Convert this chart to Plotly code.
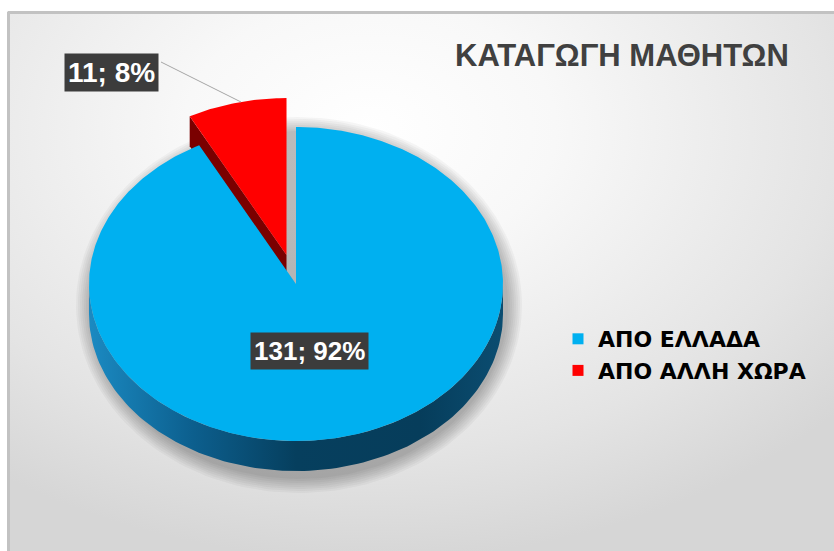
import numpy as np
import plotly.graph_objects as go

# ---------------- data ----------------
labels = ["ΑΠΟ ΕΛΛΑΔΑ", "ΑΠΟ ΑΛΛΗ ΧΩΡΑ"]
values = [131, 11]
top_colors = ["#00B0F0", "#FF0000"]
explode = [0.0, 0.19]
title_text = "ΚΑΤΑΓΩΓΗ ΜΑΘΗΤΩΝ"

# ---------------- layout constants ----------------
W, H = 834, 551
CX, CY, RX, RY, DEPTH = 296, 284, 207, 157, 30
FONT = "Liberation Sans, Arial, sans-serif"
LEGEND_FONT = "DejaVu Sans, Verdana, sans-serif"

total = float(sum(values))
pcts = [round(v / total * 100) for v in values]


def pt(theta_deg, ox=0.0, oy=0.0, dz=0.0):
    t = np.radians(theta_deg)
    return CX + ox + RX * np.sin(t), CY + oy - RY * np.cos(t) + dz


def ellipse(cx, cy, rx, ry, n=180):
    t = np.linspace(0, 2 * np.pi, n)
    return list(cx + rx * np.cos(t)), list(cy + ry * np.sin(t))


fig = go.Figure()

# background gradient
fig.add_trace(go.Scatter(
    x=[-250, 990, 990, -250, -250], y=[-300, -300, 560, 560, -300],
    mode="lines", line=dict(width=0), fill="toself",
    fillgradient=dict(type="radial",
                      colorscale=[[0, "#ffffff"], [0.3, "#f8f8f8"],
                                  [0.75, "#e4e4e4"], [1, "#d6d6d6"]]),
    hoverinfo="skip", showlegend=False))

# soft shadow under the pie
for k in range(16, 0, -2):
    ex, ey = ellipse(CX + 3, CY + DEPTH / 2 + 6, RX + k, RY + DEPTH / 2 + k)
    fig.add_trace(go.Scatter(x=ex, y=ey, mode="lines", line=dict(width=0),
                             fill="toself", fillcolor="rgba(0,0,0,0.035)",
                             hoverinfo="skip", showlegend=False))

# slice angles (clockwise from 12 o'clock)
angles = []
start = 0.0
for v in values:
    end = start + v / total * 360.0
    angles.append((start, end))
    start = end

side_scales = [
    [[0, "#1b8ac2"], [0.25, "#0c5f8e"], [0.5, "#063f5e"], [0.8, "#063d5b"], [1, "#0b4d71"]],
    [[0, "#9a0000"], [1, "#6e0000"]],
]
radial_colors = ["#0a4c70", "#7a0000"]

order = sorted(range(len(values)), key=lambda i: -explode[i])
for i in order:
    a0, a1 = angles[i]
    mid = (a0 + a1) / 2
    ox = explode[i] * RX * np.sin(np.radians(mid))
    oy = -explode[i] * RY * np.cos(np.radians(mid))
    vx, vy = CX + ox, CY + oy

    # radial walls
    if np.sin(np.radians(a0)) < -1e-6:
        px, py = pt(a0, ox, oy)
        fig.add_trace(go.Scatter(
            x=[vx, px, px, vx, vx], y=[vy, py, py + DEPTH, vy + DEPTH, vy],
            mode="lines", line=dict(width=0), fill="toself",
            fillcolor=radial_colors[i], hoverinfo="skip", showlegend=False))
    if np.sin(np.radians(a1)) > 1e-6:
        px, py = pt(a1, ox, oy)
        fig.add_trace(go.Scatter(
            x=[vx, px, px, vx, vx], y=[vy, py, py + DEPTH, vy + DEPTH, vy],
            mode="lines", line=dict(width=0), fill="toself",
            fillcolor=radial_colors[i], hoverinfo="skip", showlegend=False))

    # outer side wall (front half only)
    s0, s1 = max(a0, 90.0), min(a1, 270.0)
    if s1 > s0:
        th = np.linspace(s0, s1, 120)
        tx, ty = pt(th, ox, oy)
        bx, by = pt(th[::-1], ox, oy, DEPTH)
        fig.add_trace(go.Scatter(
            x=list(tx) + list(bx) + [tx[0]], y=list(ty) + list(by) + [ty[0]],
            mode="lines", line=dict(width=0), fill="toself",
            fillgradient=dict(type="horizontal", colorscale=side_scales[i]),
            hoverinfo="skip", showlegend=False))

    # top face
    th = np.linspace(a0, a1, max(8, int((a1 - a0) * 1.5)))
    tx, ty = pt(th, ox, oy)
    fig.add_trace(go.Scatter(
        x=[vx] + list(tx) + [vx], y=[vy] + list(ty) + [vy],
        mode="lines", line=dict(width=0), fill="toself",
        fillcolor=top_colors[i], hoverinfo="skip", showlegend=False))

# legend entries
for lab, col in zip(labels, top_colors):
    fig.add_trace(go.Scatter(x=[None], y=[None], mode="markers", name=lab,
                             marker=dict(symbol="square", size=11, color=col)))

# leader line for the small slice
fig.add_trace(go.Scatter(x=[161, 241], y=[62, 102], mode="lines",
                         line=dict(color="#a6a6a6", width=1),
                         hoverinfo="skip", showlegend=False))

# data labels
label_pos = [(309, 351), (111, 72)]
label_sizes = [26, 28]
for (lx, ly), v, p, fs in zip(label_pos, values, pcts, label_sizes):
    txt = f"{v}; {p}%"
    fig.add_annotation(x=lx, y=ly, text=txt, showarrow=False,
                       font=dict(family=FONT, size=fs, color="#ffffff", weight="bold"),
                       bgcolor="#3c3c3c", borderpad=3)

# title
fig.add_annotation(x=622, y=55, text=title_text, showarrow=False,
                   font=dict(family=FONT, size=31, color="#404040", weight="bold"))

shapes = [
    dict(type="rect", x0=0, x1=W, y0=0, y1=11, xref="x", yref="y",
         fillcolor="white", line=dict(width=0), layer="above"),
    dict(type="rect", x0=0, x1=7, y0=0, y1=H, xref="x", yref="y",
         fillcolor="white", line=dict(width=0), layer="above"),
    dict(type="line", x0=8, x1=W, y0=12.5, y1=12.5, xref="x", yref="y",
         line=dict(color="#c2c2c2", width=3), layer="above"),
    dict(type="line", x0=8.5, x1=8.5, y0=12, y1=H, xref="x", yref="y",
         line=dict(color="#c2c2c2", width=3), layer="above"),
]

fig.update_layout(
    width=W, height=H,
    margin=dict(l=0, r=0, t=0, b=0),
    paper_bgcolor="white", plot_bgcolor="white",
    xaxis=dict(range=[0, W], visible=False, fixedrange=True),
    yaxis=dict(range=[H, 0], visible=False, fixedrange=True),
    shapes=shapes,
    showlegend=True,
    legend=dict(x=558 / W, y=1 - 318 / H, xanchor="left", yanchor="top",
                bgcolor="rgba(0,0,0,0)",
                font=dict(family=LEGEND_FONT, size=22, color="#000000", weight="bold")),
)

fig.write_html("out.html", config={"displayModeBar": False},
               post_script="document.body.style.margin='0';document.body.style.overflow='hidden';")
